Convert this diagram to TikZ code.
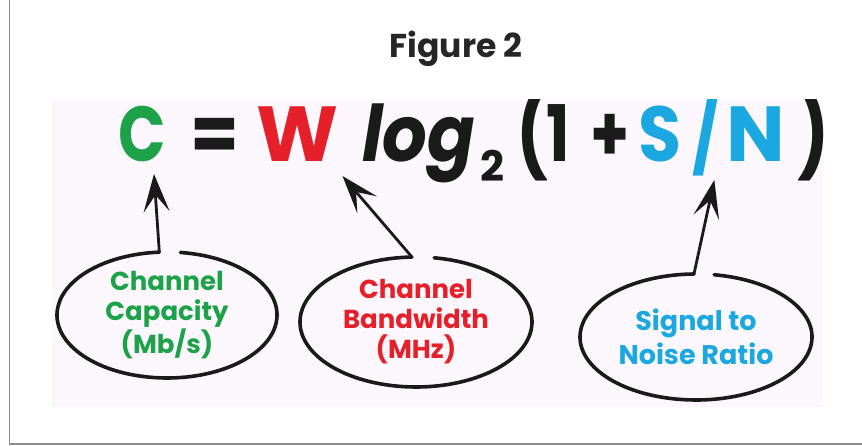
\documentclass[tikz,border=0pt]{standalone}
\usepackage{fontspec}
\setmainfont{Poppins}
\newfontfamily\eqnarrow{Poppins}[FakeStretch=0.8]
\newfontfamily\eqmid{Poppins}[FakeStretch=0.9]
\usetikzlibrary{arrows.meta}
\definecolor{cgreen}{HTML}{1DA24A}
\definecolor{cred}{HTML}{E5202A}
\definecolor{cblue}{HTML}{1BA8E0}
\definecolor{ink}{HTML}{1A1A1A}
\definecolor{bgpink}{HTML}{FCF7FC}
\definecolor{framegray}{HTML}{8C8C8C}
\definecolor{titlegray}{HTML}{262626}
\begin{document}
\begin{tikzpicture}[x=1pt,y=1pt,
  eq/.style={inner sep=0pt, anchor=base west, font=\eqnarrow\fontsize{78}{78}\selectfont\bfseries},
  eqm/.style={eq, font=\eqmid\fontsize{78}{78}\selectfont\bfseries},
  eqw/.style={eq, font=\fontsize{78}{78}\selectfont\bfseries},
  lbl/.style={inner sep=0pt, align=center, font=\fontsize{26}{30}\selectfont\bfseries},
  bubble/.style={line width=3.6pt, line cap=round, ink},
  pointer/.style={line width=2.8pt, line cap=round, line join=round, ink,
    -{Stealth[length=38pt,width=26pt,inset=17pt]}}
]
\useasboundingbox (0,0) rectangle (862,446);
\fill[bgpink] (52,39) rectangle (823,346);
\draw[framegray, line width=1.5pt] (9.5,446) -- (9.5,2) -- (862,2);
\node[font=\fontsize{33}{33}\selectfont\bfseries, text=titlegray, inner sep=0pt, anchor=base] (title) at (456,388) {Figure 2};

\begin{scope}
\clip (52,39) rectangle (823,346);
\node[eq, text=cgreen] (C) at (118,284) {C};
\node[eq, text=ink, font=\eqmid\fontsize{78}{78}\selectfont\bfseries] (eqs) at (190,284) {=};
\node[eqw, text=cred] (W) at (256,284) {W};
\node[eqm, text=ink, font=\eqmid\fontsize{78}{78}\selectfont\bfseries\itshape] (log) at (362,284) {log};
\node[eq, text=ink, font=\fontsize{42}{42}\selectfont\bfseries] (two) at (480,264) {2};
\node[eq, text=ink, font=\eqnarrow\fontsize{84}{84}\selectfont\bfseries] (lp) at (516,282) {(};
\node[eq, text=ink] (one) at (546,284) {1};
\node[eq, text=ink] (plus) at (590,284) {+};
\node[eqm, text=cblue] (S) at (638,284) {S};
\node[eq, text=cblue] (slash) at (692,284) {/};
\node[eqw, text=cblue] (N) at (726,284) {N};
\node[eq, text=ink, font=\eqnarrow\fontsize{84}{84}\selectfont\bfseries] (rp) at (797,282) {)};
\end{scope}

\node[lbl, text=cgreen] (e1) at (167,131) {Channel\\Capacity\\(Mb/s)};
\node[lbl, text=cred] (e2) at (416,124) {Channel\\Bandwidth\\(MHz)};
\node[lbl, text=cblue, font=\fontsize{27}{34}\selectfont\bfseries] (e3) at (696,109) {Signal to\\Noise Ratio};

\draw[bubble] ([shift={(83:110 and 63)}]e1.center) arc[start angle=83, end angle=-266, x radius=110, y radius=63];
\draw[bubble] ([shift={(81:116 and 65)}]e2.center) arc[start angle=81, end angle=-268, x radius=116, y radius=65];
\draw[bubble] ([shift={(81:116 and 63)}]e3.center) arc[start angle=81, end angle=-269, x radius=116, y radius=63];

\coordinate (g1) at ([shift={(94:110 and 63)}]e1.center);
\coordinate (g2) at ([shift={(92:116 and 65)}]e2.center);
\coordinate (g3) at ([shift={(91:116 and 63)}]e3.center);
\coordinate (tC) at ([shift={(12,-12)}]C.base);
\coordinate (tW) at ([shift={(4,-14)}]W.base east);
\coordinate (tSN) at ([shift={(8,-18)}]slash.base);

\draw[pointer] (g1) -- (tC);
\draw[pointer] (g2) -- (tW);
\draw[pointer] (g3) -- (tSN);
\end{tikzpicture}
\end{document}
